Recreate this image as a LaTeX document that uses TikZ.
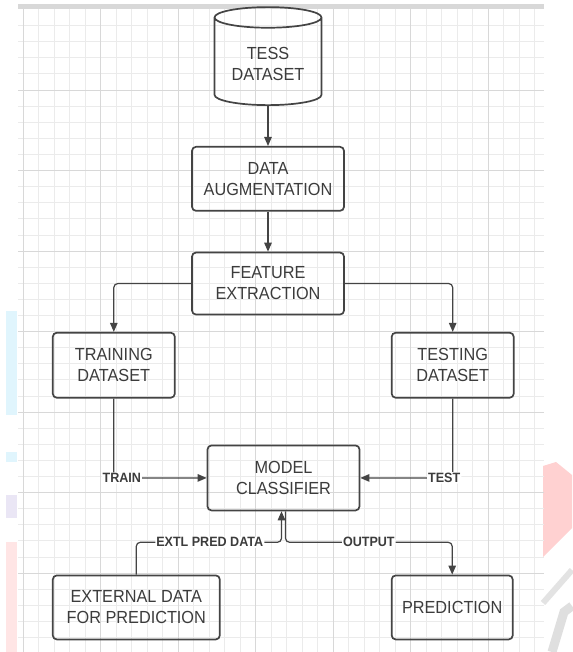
\documentclass[tikz,border=0pt]{standalone}
\usepackage{fontspec}
\setmainfont[FakeStretch=0.93]{Liberation Sans}
\usepackage{tikz}
\usetikzlibrary{shapes.geometric, arrows.meta, positioning}
\definecolor{edgegray}{HTML}{444444}
\definecolor{textgray}{HTML}{3C3C3C}
\definecolor{gridminor}{HTML}{EBEBEB}
\definecolor{gridmajor}{HTML}{D8D8D8}

\begin{document}
\begin{tikzpicture}[x=1pt, y=-1pt, node distance=40pt,
    box/.style={draw=edgegray, line width=1.7pt, rounded corners=4pt, minimum height=64pt,
      align=center, text=textgray, font=\fontsize{17.5}{21}\selectfont},
    db/.style={cylinder, shape border rotate=90, aspect=0.26, draw=edgegray, line width=1.7pt,
      minimum width=107pt, minimum height=98pt, align=center, text=textgray,
      font=\fontsize{17.5}{21}\selectfont},
    flow/.style={draw=edgegray, line width=1.2pt, rounded corners=4pt,
      -{Triangle[length=9pt,width=7.5pt]}},
    lbl/.style={fill=white, inner sep=1pt, text=textgray, font=\bfseries\fontsize{13.5}{15}\selectfont}]
        \useasboundingbox (0,0) rectangle (572,652);
        \fill[white] (0,0) rectangle (572,652);
        \fill[cyan!12] (6,311) rectangle (17,415);
        \fill[cyan!12] (6,452) rectangle (17,462);
        \fill[cyan!8!blue!8] (6,495) rectangle (17,518);
        \fill[red!10] (6,542) rectangle (17,652);
        \fill[red!18] (543,466) -- (556,462) -- (572,475) -- (572,528) -- (543,557) -- cycle;
        \draw[gray!22, line width=6pt] (543,603) -- (572,570);
        \draw[gray!25, line width=9pt] (552,652) -- (564,612) -- (572,606);
        \fill[gridmajor] (18,4) rectangle (543.5,9);
        \foreach \i [evaluate=\i as \gx using 23+15.5*\i] in {0,...,33}
          \draw[gridminor, line width=0.8pt] (\gx,9) -- (\gx,652);
        \foreach \j [evaluate=\j as \gy using 9.5+16.1*\j] in {1,...,39}
          \draw[gridminor, line width=0.8pt] (18,\gy) -- (543.5,\gy);
        \foreach \i [evaluate=\i as \gx using 23+15.5*\i] in {0,5,...,30}
          \draw[gridmajor, line width=0.8pt] (\gx,9) -- (\gx,652);
        \foreach \j [evaluate=\j as \gy using 9.5+16.1*\j] in {5,10,...,35}
          \draw[gridmajor, line width=0.8pt] (18,\gy) -- (543.5,\gy);

        \node[db] (tess) at (268,63.5) {TESS\\DATASET};
        \node[box, minimum width=152pt] (aug) [below=of tess] {DATA\\AUGMENTATION};
        \node[box, minimum width=152pt, minimum height=62pt] (feat) [below=of aug] {FEATURE\\EXTRACTION};
        \node[box, minimum width=122pt, minimum height=65pt] (train) [below left=16.5pt and 15.5pt of feat] {TRAINING\\DATASET};
        \node[box, minimum width=122pt, minimum height=65pt] (test) [below right=16.5pt and 46pt of feat] {TESTING\\DATASET};
        \node[box, minimum width=152pt, minimum height=65pt] (model) [below right=46pt and 31pt of train] {MODEL\\CLASSIFIER};
        \node[box, minimum width=167pt] (ext) [below=176pt of train.south west, anchor=north west] {EXTERNAL DATA\\FOR PREDICTION};
        \node[box, minimum width=121pt] (pred) [below=176pt of test.south west, anchor=north west] {PREDICTION};
        \coordinate[below=31pt of model] (hub);

        \draw[flow] (tess) -- (aug);
        \draw[flow] (aug) -- (feat);
        \draw[flow] (feat.west) -| (train);
        \draw[flow] (feat.east) -| (test);
        \draw[flow] (train) |- node[lbl, pos=0.543] {TRAIN} (model);
        \draw[flow] (test) |- node[lbl, pos=0.546] {TEST} (model);
        \draw[flow] (ext) |- node[lbl, pos=0.753] {EXTL PRED DATA} ([xshift=-2pt]hub) -- ([xshift=-2pt]model.south);
        \draw[flow] ([xshift=2pt]model.south) -- ([xshift=2pt]hub) -| node[lbl, pos=0.25] {OUTPUT} (pred);
      \end{tikzpicture}
\end{document}
